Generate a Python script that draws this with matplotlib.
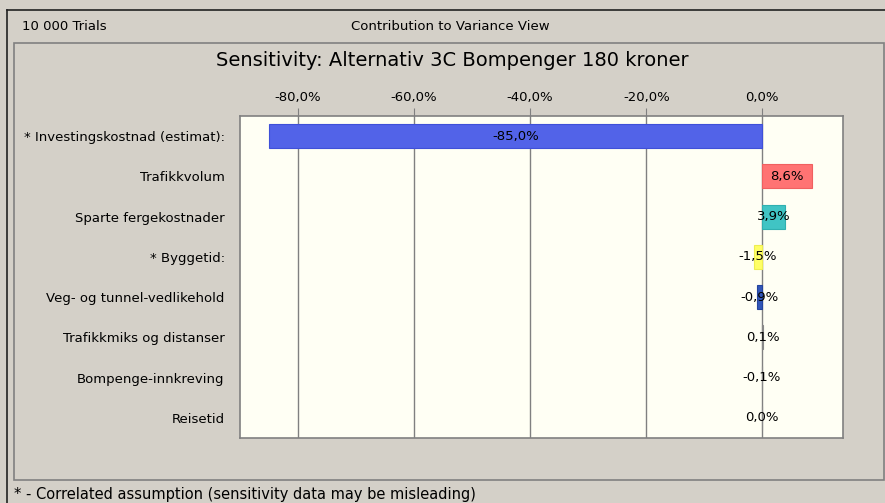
import matplotlib.pyplot as plt
from matplotlib.patches import Rectangle
from matplotlib.lines import Line2D

labels = ['* Investingskostnad (estimat):', 'Trafikkvolum', 'Sparte fergekostnader',
          '* Byggetid:', 'Veg- og tunnel-vedlikehold', 'Trafikkmiks og distanser',
          'Bompenge-innkreving', 'Reisetid']
values = [-85.0, 8.6, 3.9, -1.5, -0.9, 0.1, -0.1, 0.0]
colors = ['#5263e8', '#ff7373', '#40c4c4', '#ffff66', '#3256b8', '#888888', '#888888', '#888888']
edges = ['#3f50d8', '#f06060', '#30b0b0', '#eeee50', '#24449e', '#888888', '#888888', '#888888']
ticks = [-80, -60, -40, -20, 0]

W, H = 885, 503
bg = '#d4d0c8'
fig = plt.figure(figsize=(W / 100, H / 100), dpi=100, facecolor=bg)

def fx(x):
    return x / W

def fy(y):
    return 1 - y / H

# window frames
fig.add_artist(Line2D([fx(7), fx(885)], [fy(10), fy(10)], color='#222222', lw=1.2,
                      transform=fig.transFigure))
fig.add_artist(Line2D([fx(7), fx(7)], [fy(10), fy(503)], color='#222222', lw=1.2,
                      transform=fig.transFigure))
fig.add_artist(Rectangle((fx(14), fy(480)), fx(884) - fx(14), fy(43) - fy(480),
                         fill=False, ec='#808080', lw=1.2, transform=fig.transFigure))
fig.text(fx(22), fy(26), '10 000 Trials', fontsize=9.5, va='center', ha='left')
fig.text(fx(450), fy(26), 'Contribution to Variance View', fontsize=9.5, va='center', ha='center')
fig.text(fx(452), fy(60), 'Sensitivity: Alternativ 3C Bompenger 180 kroner', fontsize=14,
         va='center', ha='center')
fig.text(fx(14), fy(494), '* - Correlated assumption (sensitivity data may be misleading)',
         fontsize=10.5, va='center', ha='left')

ax = fig.add_axes([fx(240), fy(438), fx(843) - fx(240), fy(116) - fy(438)])
ax.set_facecolor('#fffff4')
ax.set_xlim(-90, 13.9)
ax.set_ylim(len(labels) - 0.5, -0.5)

y = list(range(len(labels)))
ax.barh(y, values, height=0.6, color=colors, edgecolor=edges, lw=0.8, zorder=3)
for i, v in enumerate(values):
    ax.text(v / 2, i, f'{v:.1f}%'.replace('.', ','), ha='center', va='center',
            fontsize=9.5, zorder=4)

ax.set_yticks(y)
ax.set_yticklabels(labels, fontsize=9.5)
ax.tick_params(axis='y', length=0, pad=11)
ax.set_xticks(ticks)
ax.set_xticklabels([f'{t:.1f}%'.replace('.', ',') for t in ticks], fontsize=9.5)
ax.xaxis.tick_top()
ax.tick_params(axis='x', length=6, color='#808080', pad=3)
ax.grid(axis='x', color='#808080', lw=1.0, zorder=1)
for s in ax.spines.values():
    s.set_color('#808080')
    s.set_linewidth(1.2)

fig.savefig('out.png', dpi=100, facecolor=bg)
